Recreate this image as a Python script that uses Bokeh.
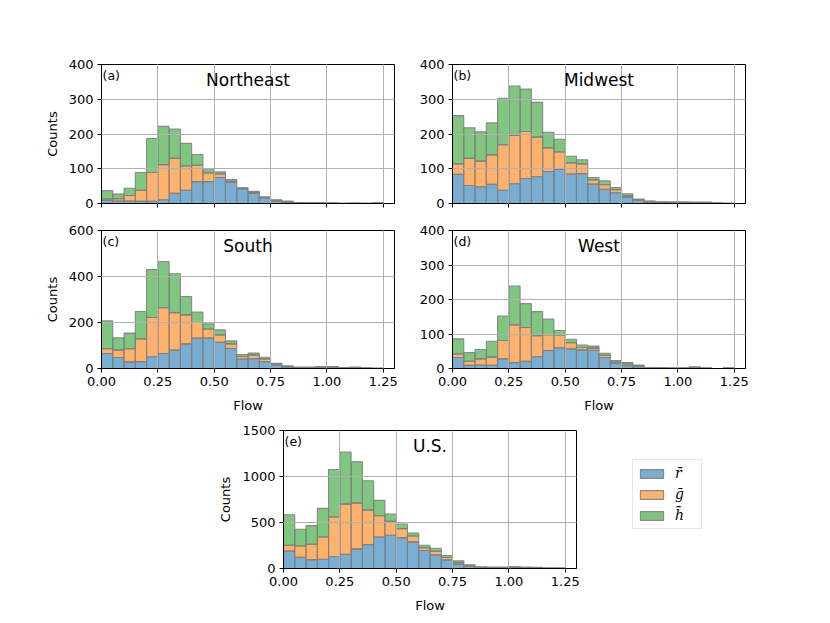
from bokeh.plotting import figure
from bokeh.models import (ColumnDataSource, Range1d, FixedTicker, PrintfTickFormatter,
                          CustomJSTickFormatter, Label, Legend, LegendItem)
from bokeh.layouts import row, column
from bokeh.embed import file_html
from bokeh.resources import INLINE

# ---------------- data ----------------
bin_left = [0.00, 0.05, 0.10, 0.15, 0.20, 0.25, 0.30, 0.35, 0.40, 0.45,
            0.50, 0.55, 0.60, 0.65, 0.70, 0.75, 0.80, 0.85, 0.90, 0.95,
            1.00, 1.05, 1.10, 1.15, 1.20]
bin_width = 0.05
x_ticks = [0.0, 0.25, 0.5, 0.75, 1.0, 1.25]

series_names = ["r", "g", "h"]
legend_labels = ["r\u0304", "\u1e21", "h\u0304"]

ne_r = [9, 7, 7, 6, 6, 11, 29, 38, 63, 63, 75, 61, 42, 30, 16, 7, 4, 2, 1, 1, 1, 0, 0, 0, 1]
ne_g = [4, 7, 16, 32, 83, 101, 101, 70, 47, 25, 10, 3, 2, 2, 2, 2, 1, 0, 0, 0, 0, 0, 1, 0, 0]
ne_h = [24, 13, 21, 51, 98, 110, 84, 65, 31, 9, 6, 5, 1, 3, 1, 2, 2, 1, 1, 1, 0, 1, 0, 1, 1]

mw_r = [84, 52, 48, 55, 38, 57, 72, 77, 92, 98, 85, 86, 56, 41, 31, 19, 10, 4, 3, 2, 2, 2, 2, 1, 0]
mw_g = [30, 78, 74, 85, 131, 139, 135, 114, 68, 50, 32, 28, 12, 13, 9, 3, 1, 2, 1, 1, 1, 1, 1, 0, 0]
mw_h = [139, 88, 84, 92, 134, 142, 122, 100, 45, 37, 19, 12, 7, 11, 6, 6, 2, 1, 1, 2, 2, 1, 1, 0, 1]

so_r = [65, 48, 29, 30, 51, 65, 80, 107, 132, 132, 114, 87, 41, 43, 30, 14, 6, 3, 3, 4, 4, 2, 3, 1, 1]
so_g = [21, 32, 57, 99, 171, 199, 163, 126, 68, 40, 32, 20, 11, 15, 12, 6, 3, 1, 1, 2, 2, 1, 1, 1, 0]
so_h = [121, 53, 68, 119, 208, 201, 169, 80, 45, 22, 22, 13, 9, 9, 7, 3, 3, 2, 2, 3, 3, 1, 2, 1, 0]

we_r = [32, 9, 10, 9, 28, 17, 21, 34, 52, 60, 57, 54, 53, 32, 15, 8, 5, 1, 1, 1, 1, 2, 1, 0, 1]
we_g = [10, 12, 18, 24, 53, 109, 98, 61, 46, 37, 18, 7, 6, 6, 4, 5, 2, 0, 1, 0, 0, 1, 0, 0, 0]
we_h = [44, 25, 27, 46, 71, 113, 69, 70, 45, 13, 10, 7, 6, 6, 4, 4, 3, 1, 0, 0, 0, 2, 0, 0, 0]

us_r = [191, 123, 97, 101, 130, 155, 213, 260, 343, 361, 336, 289, 195, 148, 94, 47, 25, 10, 8, 8, 10, 8, 6, 3, 3]
us_g = [62, 122, 167, 242, 430, 545, 498, 375, 231, 152, 97, 65, 32, 40, 25, 14, 6, 3, 3, 3, 4, 3, 3, 1, 1]
us_h = [332, 181, 202, 310, 516, 567, 448, 318, 166, 79, 51, 32, 26, 32, 22, 22, 9, 5, 5, 5, 6, 5, 3, 1, 1]

ticks_400 = [0, 100, 200, 300, 400]
ticks_600 = [0, 200, 400, 600]
ticks_1500 = [0, 500, 1000, 1500]

# ---------------- style ----------------
COLORS = ["#1f77b4", "#ff7f0e", "#2ca02c"]
FONT = "DejaVu Sans"
TICK_FS = "13px"
EDGE = "#7f7f7f"


def make_panel(r, g, h, ymax, yticks, letter, name, xlabels, ylabel,
               bl, br, bt, bb, fh):
    src = ColumnDataSource(dict(x=[b + bin_width / 2 for b in bin_left], r=r, g=g, h=h))
    p = figure(frame_width=293, frame_height=fh,
               x_range=Range1d(0, 1.3), y_range=Range1d(0, ymax),
               output_backend="svg", toolbar_location=None,
               min_border_left=bl, min_border_right=br,
               min_border_top=bt, min_border_bottom=bb)
    p.title.visible = False
    p.vbar_stack(series_names, x="x", width=bin_width, source=src,
                 fill_color=COLORS, fill_alpha=0.6,
                 line_color=EDGE, line_alpha=0.9, line_width=1.1)
    p.outline_line_color = "black"
    p.outline_line_alpha = 1
    p.outline_line_width = 1
    p.background_fill_color = "white"
    p.border_fill_color = "white"

    p.xaxis.ticker = FixedTicker(ticks=x_ticks)
    p.yaxis.ticker = FixedTicker(ticks=yticks)
    if xlabels:
        p.xaxis.formatter = PrintfTickFormatter(format="%.2f")
        p.xaxis.axis_label = "Flow"
    else:
        p.xaxis.formatter = CustomJSTickFormatter(code="return ''")
    if ylabel:
        p.yaxis.axis_label = "Counts"
    for ax in (p.xaxis, p.yaxis):
        ax.major_tick_out = 4
        ax.major_tick_in = 0
        ax.minor_tick_line_color = None
        ax.major_tick_line_color = "black"
        ax.axis_line_color = "black"
        ax.major_label_text_font = FONT
        ax.major_label_text_font_size = TICK_FS
        ax.major_label_text_color = "black"
        ax.major_label_standoff = 4
        ax.axis_label_text_font = FONT
        ax.axis_label_text_font_size = TICK_FS
        ax.axis_label_text_font_style = "normal"
        ax.axis_label_text_color = "black"
    p.xaxis.axis_label_standoff = 9
    p.yaxis.axis_label_standoff = 6
    p.grid.grid_line_color = "#b0b0b0"
    p.grid.grid_line_width = 1
    p.grid.level = "guide"

    xmid = (p.x_range.start + p.x_range.end) / 2
    p.add_layout(Label(x=xmid, y=ymax, text=name, text_align="center",
                       text_baseline="top", y_offset=-5, text_font=FONT,
                       text_font_size="17px", text_color="black"))
    p.add_layout(Label(x=p.x_range.start, y=ymax, text=letter, text_align="left",
                       text_baseline="top", x_offset=1, y_offset=-3, text_font=FONT,
                       text_font_size="12.5px", text_color="black"))
    return p


pa = make_panel(ne_r, ne_g, ne_h, 400, ticks_400, "(a)", "Northeast", False, True, 101, 10, 64, 17, 139)
pb = make_panel(mw_r, mw_g, mw_h, 400, ticks_400, "(b)", "Midwest", False, False, 48, 20, 64, 17, 139)
pc = make_panel(so_r, so_g, so_h, 600, ticks_600, "(c)", "South", True, True, 101, 10, 10, 50, 138)
pd = make_panel(we_r, we_g, we_h, 400, ticks_400, "(d)", "West", True, False, 48, 20, 10, 50, 138)
pe = make_panel(us_r, us_g, us_h, 1500, ticks_1500, "(e)", "U.S.", True, True, 283, 20, 12, 46, 138)

# legend panel: its frame lines up with the U.S. panel's frame
lf = figure(frame_width=110, frame_height=138, x_axis_location=None, y_axis_location=None,
            x_range=Range1d(0, 1), y_range=Range1d(0, 1),
            min_border_left=36, min_border_top=12, min_border_right=0, min_border_bottom=46,
            toolbar_location=None, output_backend="svg")
lf.title.visible = False
lf.outline_line_color = None
lf.grid.visible = False
lf.background_fill_color = "white"
lf.border_fill_color = "white"
# legend-key renderers: one tiny bar that sits hidden under the opaque legend box
key_src = ColumnDataSource(dict(x=[0.3], bottom=[0.5], top=[0.52]))
items = []
for lab, col in zip(legend_labels, COLORS):
    rr = lf.vbar(x="x", bottom="bottom", top="top", width=bin_width, source=key_src,
                 fill_color=col, fill_alpha=0.6,
                 line_color=EDGE, line_alpha=0.9, line_width=1.1)
    items.append(LegendItem(label=lab, renderers=[rr]))
leg = Legend(items=items, location=(0, 39), margin=0, padding=4,
             spacing=3, label_height=18, glyph_height=11, glyph_width=29,
             label_standoff=9, label_width=22,
             label_text_font="DejaVu Serif", label_text_font_style="italic",
             label_text_font_size="14px", label_text_color="black",
             border_line_color="#cccccc", border_line_width=1,
             background_fill_color="white", background_fill_alpha=1.0)
lf.add_layout(leg)

layout = column(row(pa, pb), row(pc, pd), row(pe, lf))

open("out.html", "w").write(file_html(layout, INLINE))
